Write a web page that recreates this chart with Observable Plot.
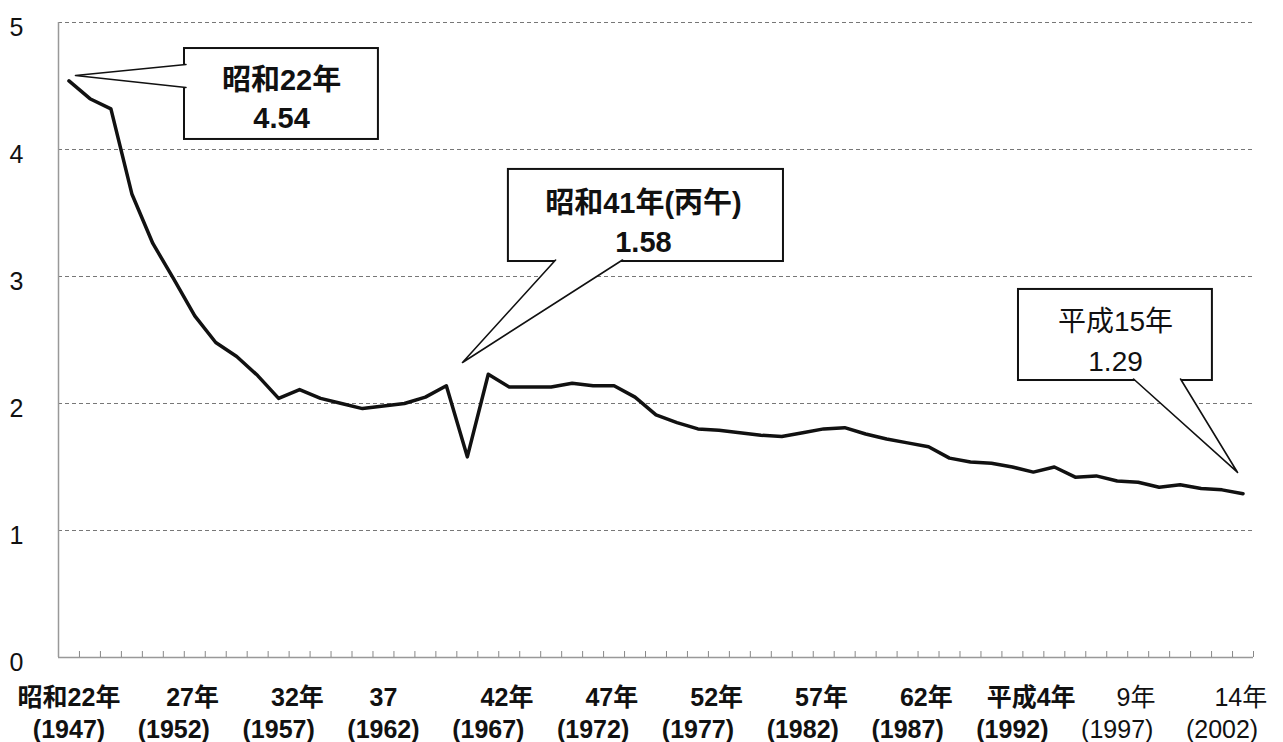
<!DOCTYPE html>
<html><head><meta charset="utf-8">
<script src="https://cdn.jsdelivr.net/npm/d3@7"></script>
<script src="https://cdn.jsdelivr.net/npm/@observablehq/plot@0.6"></script>
<style>html,body{margin:0;padding:0;background:#fff}svg{display:block}</style>
</head><body><div id="chart"></div>
<script>
// ---- data ----
const years = [1947,1948,1949,1950,1951,1952,1953,1954,1955,1956,1957,1958,1959,1960,1961,1962,1963,1964,1965,1966,1967,1968,1969,1970,1971,1972,1973,1974,1975,1976,1977,1978,1979,1980,1981,1982,1983,1984,1985,1986,1987,1988,1989,1990,1991,1992,1993,1994,1995,1996,1997,1998,1999,2000,2001,2002,2003];
const tfr = [4.54,4.40,4.32,3.65,3.26,2.98,2.69,2.48,2.37,2.22,2.04,2.11,2.04,2.00,1.96,1.98,2.00,2.05,2.14,1.58,2.23,2.13,2.13,2.13,2.16,2.14,2.14,2.05,1.91,1.85,1.80,1.79,1.77,1.75,1.74,1.77,1.80,1.81,1.76,1.72,1.69,1.66,1.57,1.54,1.53,1.50,1.46,1.50,1.42,1.43,1.39,1.38,1.34,1.36,1.33,1.32,1.29];
const yTicks = [0,1,2,3,4,5];
const gridValues = [1,2,3,4,5];
const labelYears = [1947,1952,1957,1962,1967,1972,1977,1982,1987,1992,1997,2002];
const labelEra = ["昭和22年","\u3000\u200227年","\u3000\u200232年","37","\u3000\u200242年","\u3000\u200247年","\u3000\u200252年","\u3000\u200257年","\u3000\u200262年","\u3000\u2002平成4年","\u3000\u20029年","\u3000\u200214年"];
const labelWestern = ["(1947)","(1952)","(1957)","(1962)","(1967)","(1972)","(1977)","(1982)","(1987)","(1992)","(1997)","(2002)"];
const calloutYears = [1947,1966,2003];
const calloutTitles = ["昭和22年","昭和41年(丙午)","平成15年"];

// ---- callout layout (data units) ----
const calloutLayout = [
  {bold:true,  box:[1952.51,1961.76,4.079,4.795], text:[1957.14,4.543,4.244], pointer:[[1952.58,4.669],[1947.31,4.583],[1952.58,4.488]]},
  {bold:true,  box:[1967.96,1981.08,3.118,3.843], text:[1974.40,3.575,3.268], pointer:[[1970.21,3.130],[1965.77,2.323],[1973.40,3.130]]},
  {bold:false, box:[1992.29,2001.54,2.181,2.898], text:[1996.92,2.638,2.323], pointer:[[1997.78,2.193],[2002.74,1.457],[2000.02,2.193]]}
];

const data = years.map((y, i) => ({year: y, value: tfr[i]}));
const xDomain = [years[0] - 0.5, years[years.length - 1] + 0.5];
const boundaries = years.map(y => y + 0.5);
const xLabels = labelYears.map((y, i) => ({year: y, label: labelEra[i] + "\n" + labelWestern[i], bold: i < 10}));

const callouts = calloutLayout.map((c, i) => ({
  ...c, title: calloutTitles[i],
  valueText: tfr[years.indexOf(calloutYears[i])].toFixed(2)
}));
const boxes = callouts.map(c => ({x1: c.box[0], x2: c.box[1], y1: c.box[2], y2: c.box[3]}));
const pointerPts = callouts.flatMap((c, i) => c.pointer.map(p => ({id: i, x: p[0], y: p[1]})));
const textRows = callouts.flatMap(c => [
  {x: c.text[0], y: c.text[1], t: c.title, bold: c.bold},
  {x: c.text[0], y: c.text[2], t: c.valueText, bold: c.bold}
]);

const font = "'Liberation Sans','Noto Sans CJK JP',sans-serif";

const chart = Plot.plot({
  width: 1283, height: 742,
  marginLeft: 58, marginRight: 30, marginTop: 22, marginBottom: 85,
  style: {fontFamily: font, background: "#fff", color: "#000", overflow: "visible"},
  x: {domain: xDomain, axis: null},
  y: {domain: [0, 5], axis: null},
  marks: [
    Plot.ruleY(gridValues, {stroke: "#777", strokeDasharray: "4,3", strokeWidth: 1}),
    Plot.ruleX([xDomain[0]], {y1: 0, y2: 5, stroke: "#999", strokeWidth: 1.5}),
    Plot.ruleY([0], {stroke: "#999", strokeWidth: 1.5}),
    Plot.ruleX(boundaries, {y1: 0, y2: 0.047, stroke: "#888", strokeWidth: 1}),
    Plot.text(yTicks, {x: () => xDomain[0], y: d => d, text: d => String(d), textAnchor: "end", dx: -35, dy: 5, fontSize: 25, fill: "#111"}),
    Plot.lineY(data, {x: "year", y: "value", stroke: "#111", strokeWidth: 3.5}),
    Plot.rect(boxes, {x1: "x1", x2: "x2", y1: "y1", y2: "y2", fill: "#fff", stroke: "#111", strokeWidth: 2}),
    Plot.line(pointerPts, {x: "x", y: "y", z: "id", fill: "#fff", stroke: "#111", strokeWidth: 1.6, curve: "linear"}),
    Plot.text(textRows.filter(d => d.bold), {x: "x", y: "y", text: "t", fontSize: 29, fontWeight: "bold", fill: "#111"}),
    Plot.text(textRows.filter(d => !d.bold), {x: "x", y: "y", text: "t", fontSize: 28, fontWeight: "normal", fill: "#111"}),
    Plot.text(xLabels.filter(d => d.bold), {x: "year", y: () => 0, text: "label", fontSize: 25, fontWeight: "bold", lineAnchor: "middle", lineHeight: 1.28, dy: 54, fill: "#111"}),
    Plot.text(xLabels.filter(d => !d.bold), {x: "year", y: () => 0, text: "label", fontSize: 25, fontWeight: "normal", lineAnchor: "middle", lineHeight: 1.28, dy: 54, fill: "#111"})
  ]
});
document.getElementById("chart").appendChild(chart);
</script>
</body></html>
